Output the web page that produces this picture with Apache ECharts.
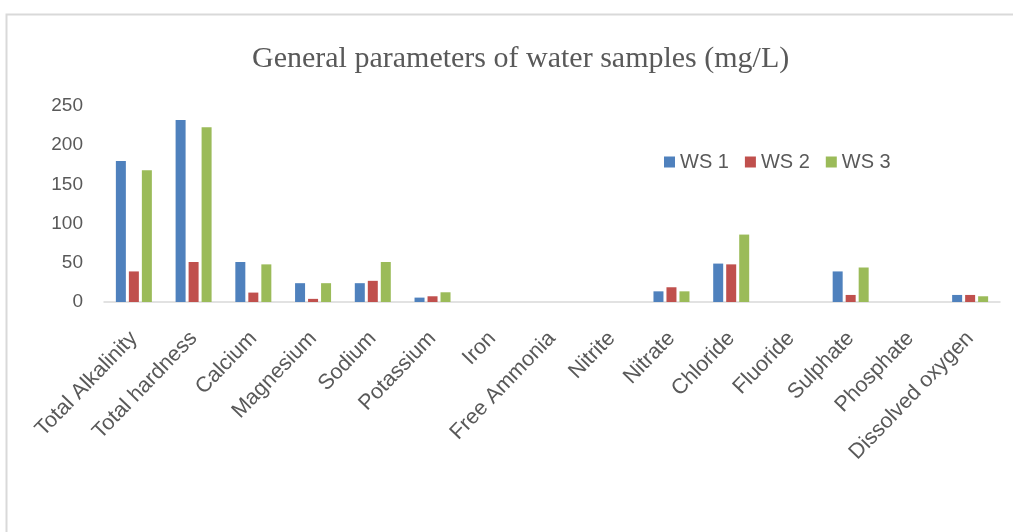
<!DOCTYPE html>
<html>
<head>
<meta charset="utf-8">
<script src="https://cdn.jsdelivr.net/npm/echarts@6/dist/echarts.min.js"></script>
<style>
html,body{margin:0;padding:0;background:#fff;}
#chart{width:1013px;height:532px;}
</style>
</head>
<body>
<div id="chart"></div>
<script>
var params=['Total Alkalinity','Total hardness','Calcium','Magnesium','Sodium','Potassium','Iron','Free Ammonia','Nitrite','Nitrate','Chloride','Fluoride','Sulphate','Phosphate','Dissolved oxygen'];
var ws1=[180,232,51,24,24,5.6,0,0,0,13.6,49,0,39,0,9];
var ws2=[39,51,12,4,27,7.3,0,0,0,18.8,48,0,9,0,9];
var ws3=[168,223,48,24,51,12.4,0,0,0,13.6,86,0,44,0,7.3];
var yTicks=[0,50,100,150,200,250];

var myChart=echarts.init(document.getElementById('chart'));
var labelColor='#595959';
var option={
    animation:false,
    title:{
        text:'General parameters of water samples (mg/L)',
        left:247,
        top:39,
        textStyle:{
            fontFamily:'Liberation Serif',
            fontWeight:'normal',
            fontSize:30,
            color:'#595959'
        }
    },
    legend:{
        data:['WS 1','WS 2','WS 3'],
        left:659,
        top:147,
        itemWidth:11,
        itemHeight:11,
        itemGap:16,
        icon:'rect',
        textStyle:{
            fontFamily:'Liberation Sans',
            fontSize:20,
            color:labelColor
        }
    },
    graphic:[{
        type:'rect',
        shape:{x:6.5,y:14.5,width:1100,height:600},
        style:{fill:'none',stroke:'#d9d9d9',lineWidth:2},
        silent:true
    }],
    grid:{
        left:104,
        right:13,
        top:106,
        bottom:230
    },
    xAxis:{
        type:'category',
        data:params,
        axisLine:{lineStyle:{color:'#d9d9d9',width:1.5}},
        axisTick:{show:false},
        axisLabel:{
            rotate:46,
            interval:0,
            margin:33,
            fontFamily:'Liberation Sans',
            fontSize:21.5,
            color:labelColor
        }
    },
    yAxis:{
        type:'value',
        min:yTicks[0],
        max:yTicks[yTicks.length-1],
        interval:50,
        axisLine:{show:false},
        axisTick:{show:false},
        splitLine:{show:false},
        axisLabel:{
            margin:21,
            fontFamily:'Liberation Sans',
            fontSize:19,
            color:labelColor
        }
    },
    series:[
        {name:'WS 1',type:'bar',data:ws1,barWidth:10,barGap:'30%',itemStyle:{color:'#4F81BD'}},
        {name:'WS 2',type:'bar',data:ws2,barWidth:10,barGap:'30%',itemStyle:{color:'#C0504D'}},
        {name:'WS 3',type:'bar',data:ws3,barWidth:10,barGap:'30%',itemStyle:{color:'#9BBB59'}}
    ]
};
myChart.setOption(option);
</script>
</body>
</html>
